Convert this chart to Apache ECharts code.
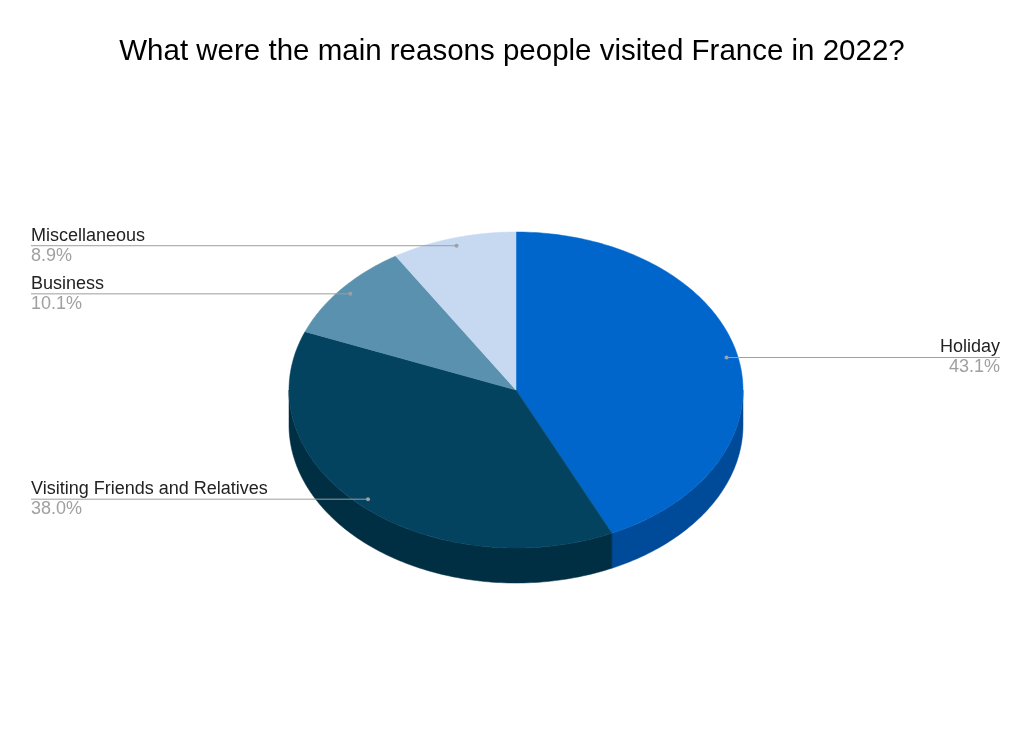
<!DOCTYPE html>
<html>
<head>
<meta charset="utf-8">
<script src="https://cdn.jsdelivr.net/npm/echarts@6/dist/echarts.min.js"></script>
<style>
  html, body { margin: 0; padding: 0; background: #fff; }
  #chart { width: 1024px; height: 747px; }
</style>
</head>
<body>
<div id="chart"></div>
<script>
// data
const categories = ['Holiday', 'Visiting Friends and Relatives', 'Business', 'Miscellaneous'];
const shares = [43.1, 38.0, 10.1, 8.9];

const topColors = ['#0066cc', '#03435f', '#5a91af', '#c6d9f1'];
const sideColors = ['#004b99', '#002f44', '#3f6f8a', '#9fb3cc'];

var myChart = echarts.init(document.getElementById('chart'));

const cx = 516, cy = 390; // top ellipse center
const rx = 227, ry = 158;
const depth = 35;
const total = shares.reduce((a, b) => a + b, 0);
const labelFont = '18px "Liberation Sans", Arial, sans-serif';

function pt(deg, dy) {
  let t = deg * Math.PI / 180;
  return [cx + rx * Math.sin(t), cy - ry * Math.cos(t) + (dy || 0)];
}

function arc(a0, a1, dy) {
  let pts = [];
  let steps = Math.max(2, Math.ceil(Math.abs(a1 - a0)));
  for (let i = 0; i <= steps; i++) {
    pts.push(pt(a0 + (a1 - a0) * i / steps, dy));
  }
  return pts;
}

function renderSlice(params, api) {
  let i = params.dataIndex;
  let before = 0;
  for (let k = 0; k < i; k++) before += shares[k];
  let a0 = before / total * 360;
  let a1 = (before + api.value(0)) / total * 360;
  let children = [];

  // front wall, only the part facing the viewer (90..270 deg)
  let s0 = Math.max(a0, 90), s1 = Math.min(a1, 270);
  if (s1 > s0) {
    let side = arc(s0, s1, 0).concat(arc(s1, s0, depth));
    children.push({
      type: 'polygon',
      shape: { points: side },
      style: { fill: sideColors[i], stroke: sideColors[i], lineWidth: 0.5 }
    });
  }

  // top face
  children.push({
    type: 'polygon',
    shape: { points: [[cx, cy]].concat(arc(a0, a1, 0)) },
    style: { fill: topColors[i], stroke: topColors[i], lineWidth: 0.5 }
  });

  // leader line + labels
  let mid = (a0 + a1) / 2;
  let t = mid * Math.PI / 180;
  let dot = [cx + 0.95 * rx * Math.sin(t), cy - 0.95 * ry * Math.cos(t)];
  let left = Math.sin(t) < 0;
  let edge = left ? 31 : 1000;
  children.push({
    type: 'line',
    shape: { x1: dot[0], y1: dot[1], x2: edge, y2: dot[1] },
    style: { stroke: '#9e9e9e', lineWidth: 1 }
  });
  children.push({
    type: 'circle',
    shape: { cx: dot[0], cy: dot[1], r: 2 },
    style: { fill: '#a0a0a0' }
  });
  children.push({
    type: 'text',
    style: {
      x: edge, y: dot[1] - 1,
      text: categories[i],
      fill: '#222',
      font: labelFont,
      textAlign: left ? 'left' : 'right',
      textVerticalAlign: 'bottom'
    }
  });
  children.push({
    type: 'text',
    style: {
      x: edge, y: dot[1] + 1,
      text: api.value(0).toFixed(1) + '%',
      fill: '#a0a0a0',
      font: labelFont,
      textAlign: left ? 'left' : 'right',
      textVerticalAlign: 'top'
    }
  });

  return { type: 'group', children: children };
}

var option = {
  backgroundColor: '#fff',
  animation: false,
  title: {
    text: 'What were the main reasons people visited France in 2022?',
    left: 'center',
    top: 32,
    textStyle: {
      fontFamily: '"Liberation Sans", Arial, sans-serif',
      fontSize: 29.5,
      fontWeight: 'normal',
      color: '#000'
    }
  },
  series: [
    {
      type: 'custom',
      coordinateSystem: 'none',
      renderItem: renderSlice,
      data: shares.map((v) => [v])
    }
  ]
};

myChart.setOption(option);
</script>
</body>
</html>
